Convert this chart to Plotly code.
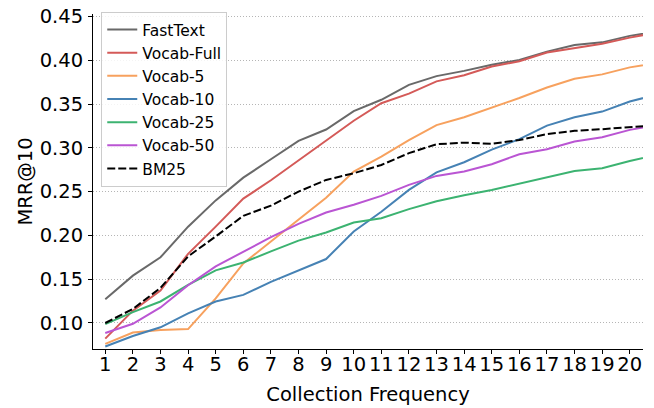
import plotly.graph_objects as go

collection_frequency = list(range(1, 22))
tick_labels = [str(i) for i in range(1, 21)]

fasttext = [0.127, 0.154, 0.175, 0.210, 0.240, 0.266, 0.287, 0.308, 0.321, 0.342, 0.355,
            0.372, 0.382, 0.388, 0.395, 0.4005, 0.410, 0.4176, 0.4206, 0.428, 0.433]
vocab_full = [0.082, 0.114, 0.137, 0.179, 0.210, 0.242, 0.263, 0.286, 0.308, 0.331, 0.351,
              0.362, 0.376, 0.383, 0.393, 0.399, 0.409, 0.414, 0.419, 0.426, 0.432]
vocab_5 = [0.076, 0.089, 0.092, 0.093, 0.128, 0.168, 0.193, 0.218, 0.243, 0.273, 0.290,
           0.309, 0.326, 0.335, 0.346, 0.357, 0.369, 0.379, 0.384, 0.392, 0.397]
vocab_10 = [0.073, 0.085, 0.095, 0.111, 0.1245, 0.132, 0.147, 0.160, 0.173, 0.2045, 0.227,
            0.252, 0.272, 0.2836, 0.298, 0.310, 0.3255, 0.335, 0.3415, 0.353, 0.361]
vocab_25 = [0.0987, 0.1124, 0.1245, 0.1436, 0.160, 0.169, 0.1817, 0.194, 0.2034, 0.2148, 0.2197,
            0.230, 0.239, 0.246, 0.252, 0.259, 0.266, 0.2737, 0.2768, 0.285, 0.292]
vocab_50 = [0.0885, 0.099, 0.1177, 0.143, 0.1646, 0.1817, 0.198, 0.2132, 0.2262, 0.235, 0.2452,
            0.2577, 0.268, 0.273, 0.2814, 0.2928, 0.2985, 0.3073, 0.3122, 0.3206, 0.326]
bm25 = [0.0999, 0.116, 0.140, 0.176, 0.1988, 0.2224, 0.234, 0.250, 0.2634, 0.271, 0.2805,
        0.294, 0.3042, 0.306, 0.3046, 0.309, 0.3157, 0.3195, 0.3214, 0.3236, 0.326]

series = [
    ("FastText", fasttext, "#696969", "solid"),
    ("Vocab-Full", vocab_full, "#d45a58", "solid"),
    ("Vocab-5", vocab_5, "#f7a15e", "solid"),
    ("Vocab-10", vocab_10, "#4682b4", "solid"),
    ("Vocab-25", vocab_25, "#3cb371", "solid"),
    ("Vocab-50", vocab_50, "#ba55d3", "solid"),
    ("BM25", bm25, "#000000", "8px,3px"),
]

FONT = "DejaVu Sans"
fig = go.Figure()
for name, vals, color, dash in series:
    fig.add_trace(go.Scatter(
        x=collection_frequency, y=vals, name=name, mode="lines",
        line=dict(color=color, width=2, dash=dash),
    ))

fig.update_layout(
    width=654, height=408,
    margin=dict(l=93, r=11, t=14, b=59, autoexpand=False),
    paper_bgcolor="white", plot_bgcolor="white",
    font=dict(family=FONT, size=19.5, color="black"),
    showlegend=True,
    legend=dict(
        x=0.015, y=1.006, xanchor="left", yanchor="top",
        bgcolor="rgba(255,255,255,0.85)", bordercolor="#cccccc", borderwidth=1,
        font=dict(family=FONT, size=15.5, color="black"),
        tracegroupgap=0, itemwidth=30,
    ),
)
fig.update_xaxes(
    range=[0.555, 20.48], tickmode="array", tickvals=list(range(1, 21)), ticktext=tick_labels,
    showgrid=False, zeroline=False, showline=True, linecolor="black", linewidth=1,
    ticks="outside", ticklen=4, tickcolor="black", tickfont=dict(size=19.5),
    ticklabelstandoff=-6, automargin=False,
    title=dict(text="Collection Frequency", font=dict(size=19.5), standoff=11),
)
fig.update_yaxes(
    range=[0.0702, 0.453], tickmode="array",
    tickvals=[0.10, 0.15, 0.20, 0.25, 0.30, 0.35, 0.40, 0.45],
    ticktext=["0.10", "0.15", "0.20", "0.25", "0.30", "0.35", "0.40", "0.45"],
    showgrid=True, gridcolor="#b5b5b5", gridwidth=1, griddash="1px,2px",
    zeroline=False, showline=True, linecolor="black", linewidth=1,
    ticks="outside", ticklen=4, tickcolor="black", tickfont=dict(size=19.5),
    ticklabelstandoff=1, automargin=False,
    title=dict(text="MRR@10", font=dict(size=19.5), standoff=1),
)

fig.write_html("out.html", config={"displayModeBar": False},
               post_script="document.body.style.margin='0';")
